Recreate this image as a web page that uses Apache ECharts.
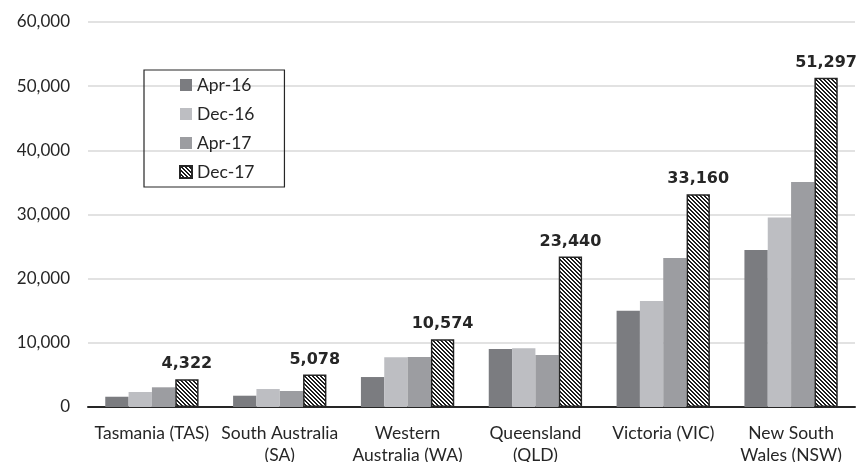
<!DOCTYPE html>
<html><head><meta charset="utf-8">
<script src="https://cdn.jsdelivr.net/npm/echarts@6/dist/echarts.min.js"></script>
<style>html,body{margin:0;padding:0;background:#fff}#c{width:857px;height:462px}</style>
</head><body><div id="c"></div>
<script>
var categories = ['Tasmania (TAS)', 'South Australia\n(SA)', 'Western\nAustralia (WA)', 'Queensland\n(QLD)', 'Victoria (VIC)', 'New South\nWales (NSW)'];
var seriesNames = ['Apr-16', 'Dec-16', 'Apr-17', 'Dec-17'];
var apr16 = [1600, 1760, 4670, 9030, 15000, 24450];
var dec16 = [2340, 2800, 7740, 9140, 16510, 29550];
var apr17 = [3070, 2490, 7780, 8100, 23210, 35050];
var dec17 = [4322, 5078, 10574, 23440, 33160, 51297];
var yTicks = [0, 10000, 20000, 30000, 40000, 50000, 60000];

function hatch() {
  var c = document.createElement('canvas');
  c.width = 4; c.height = 4;
  var g = c.getContext('2d');
  g.fillStyle = '#ffffff'; g.fillRect(0, 0, 4, 4);
  g.fillStyle = '#1e1e1e';
  for (var y = 0; y < 4; y++) {
    for (var x = 0; x < 4; x++) {
      var d = ((x - y) % 4 + 4) % 4;
      if (d < 2) g.fillRect(x, y, 1, 1);
    }
  }
  return c;
}
var pat = { image: hatch(), repeat: 'repeat' };
var FONT = 'Lato';
var chart = echarts.init(document.getElementById('c'));
var colors = ['#7b7c80', '#bdbec2', '#9c9da1'];
var data = [apr16, dec16, apr17, dec17];
var series = seriesNames.map(function (n, i) {
  var s = {
    name: n, type: 'bar', data: data[i], barGap: '0%', barCategoryGap: '27%',
    itemStyle: { color: colors[i] }
  };
  if (i === 3) {
    s.itemStyle = { color: pat, borderColor: '#262626', borderWidth: 1.5 };
    s.label = {
      show: true, position: 'top', distance: 7, color: '#262626',
      fontFamily: 'DejaVu Sans', fontWeight: 'bold', fontSize: 16,
      formatter: function (p) { return p.value.toLocaleString('en-US'); }
    };
  }
  return s;
});
chart.setOption({
  animation: false,
  grid: { left: 88, right: 2, top: 22, bottom: 55, containLabel: false, outerBoundsMode: 'none' },
  legend: {
    orient: 'vertical', left: 144, top: 70,
    data: seriesNames,
    itemWidth: 12, itemHeight: 12, itemGap: 11,
    padding: [6, 30, 6, 35],
    borderColor: '#262626', borderWidth: 1.2,
    textStyle: { fontFamily: FONT, fontSize: 17.5, lineHeight: 18, color: '#262626' },
    icon: 'rect'
  },
  xAxis: {
    type: 'category', data: categories,
    axisLine: { lineStyle: { color: '#262626', width: 2 } },
    axisTick: { show: false },
    axisLabel: { fontFamily: FONT, fontSize: 17.5, color: '#262626', lineHeight: 22, margin: 15, interval: 0 }
  },
  yAxis: {
    type: 'value', min: 0, max: 60000, interval: 10000,
    axisLine: { show: false }, axisTick: { show: false },
    splitLine: { lineStyle: { color: '#d9d9d9', width: 1.5 } },
    axisLabel: {
      fontFamily: FONT, fontSize: 17, color: '#262626', margin: 18,
      formatter: function (v) { return yTicks.indexOf(v) >= 0 ? v.toLocaleString('en-US') : ''; }
    }
  },
  series: series
});
</script></body></html>
